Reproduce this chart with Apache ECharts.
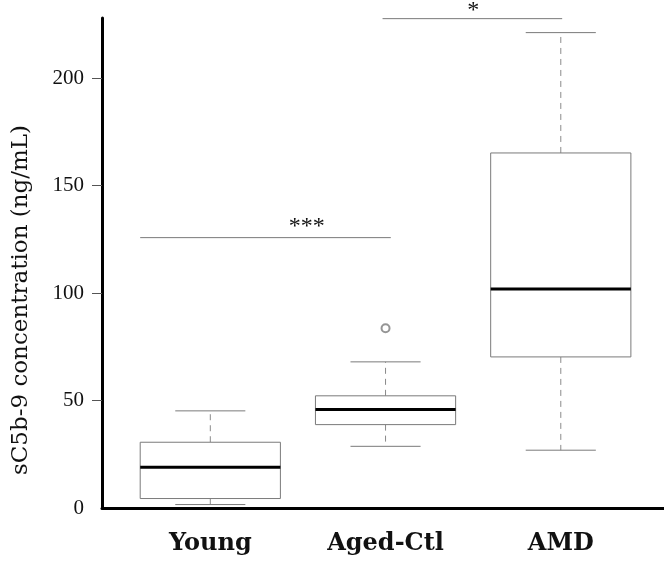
<!DOCTYPE html>
<html>
<head>
<meta charset="utf-8">
<script src="https://cdn.jsdelivr.net/npm/echarts@6/dist/echarts.min.js"></script>
<style>
html,body{margin:0;padding:0;background:#fff;}
#chart{width:664px;height:564px;}
</style>
</head>
<body>
<div id="chart"></div>
<script>
// ---- data ----
var categories = ['Young', 'Aged-Ctl', 'AMD'];
// [low whisker, Q1, median, Q3, high whisker]
var youngStats = [1.6, 4.4, 19.0, 30.6, 45.2];
var agedStats  = [28.7, 38.8, 45.8, 52.2, 68.0];
var amdStats   = [26.9, 70.3, 101.9, 165.2, 221.2];
var outliers = [[2, 83.6]];
var yTicks = [0, 50, 100, 150, 200];
var yTickMarks = [50, 100, 150, 200];
var yTitle = 'sC5b-9 concentration (ng/mL)';
// significance: [xStart, xEnd, lineY, textX, textY, label]
var sigStart = [0.6, 1.983];
var sigEnd   = [2.03, 3.008];
var sigLineY = [125.8, 227.7];
var sigTextX = [1.55, 2.5];
var sigTextY = [130.8, 231.5];
var sigLabel = ['***', '*'];

var boxData = [youngStats, agedStats, amdStats].map(function (s, i) {
  return [i + 1].concat(s);
});
var sigData = sigLabel.map(function (l, i) {
  return [sigStart[i], sigEnd[i], sigLineY[i], sigTextX[i], sigTextY[i], l];
});

var chart = echarts.init(document.getElementById('chart'));
var gray = '#7a7a7a';
var serif = 'Liberation Serif';

function boxRender(params, api) {
  var x = api.value(0);
  var lo = api.value(1), q1 = api.value(2), med = api.value(3), q3 = api.value(4), hi = api.value(5);
  var hw = 0.4, cw = 0.2;
  var pTL = api.coord([x - hw, q3]);
  var pBR = api.coord([x + hw, q1]);
  var pc = function (xx, yy) { return api.coord([xx, yy]); };
  var dashStyle = { stroke: '#8a8a8a', lineWidth: 1, lineDash: [6, 5] };
  var solid = { stroke: gray, lineWidth: 1 };
  return {
    type: 'group',
    children: [
      { type: 'line', shape: { x1: pc(x, q3)[0], y1: pc(x, q3)[1], x2: pc(x, hi)[0], y2: pc(x, hi)[1] }, style: dashStyle },
      { type: 'line', shape: { x1: pc(x, q1)[0], y1: pc(x, q1)[1], x2: pc(x, lo)[0], y2: pc(x, lo)[1] }, style: dashStyle },
      { type: 'line', shape: { x1: pc(x - cw, hi)[0], y1: pc(x - cw, hi)[1], x2: pc(x + cw, hi)[0], y2: pc(x + cw, hi)[1] }, style: solid },
      { type: 'line', shape: { x1: pc(x - cw, lo)[0], y1: pc(x - cw, lo)[1], x2: pc(x + cw, lo)[0], y2: pc(x + cw, lo)[1] }, style: solid },
      { type: 'rect', shape: { x: pTL[0], y: pTL[1], width: pBR[0] - pTL[0], height: pBR[1] - pTL[1] }, style: { fill: '#fff', stroke: gray, lineWidth: 1 } },
      { type: 'line', shape: { x1: pc(x - hw, med)[0], y1: pc(x - hw, med)[1], x2: pc(x + hw, med)[0], y2: pc(x + hw, med)[1] }, style: { stroke: '#000', lineWidth: 3 } }
    ]
  };
}

function sigRender(params, api) {
  var p1 = api.coord([api.value(0), api.value(2)]);
  var p2 = api.coord([api.value(1), api.value(2)]);
  var pt = api.coord([api.value(3), api.value(4)]);
  return {
    type: 'group',
    children: [
      { type: 'line', shape: { x1: p1[0], y1: p1[1], x2: p2[0], y2: p2[1] }, style: { stroke: gray, lineWidth: 1 } },
      { type: 'text', x: pt[0], y: pt[1], style: { text: api.value(5), fontFamily: serif, fontSize: 24, fill: '#111', align: 'center', verticalAlign: 'middle' } }
    ]
  };
}

chart.setOption({
  animation: false,
  backgroundColor: '#fff',
  grid: { left: 102, top: 18, right: 0, bottom: 56, containLabel: false },
  xAxis: {
    type: 'value', min: 0.382, max: 3.589,
    axisLine: { onZero: false, lineStyle: { color: '#000', width: 3 } },
    axisTick: { show: false },
    splitLine: { show: false },
    axisLabel: {
      customValues: [1, 2, 3],
      formatter: function (v) { return categories[Math.round(v) - 1] || ''; },
      fontFamily: 'DejaVu Serif', fontWeight: 'bold', fontSize: 24, color: '#111', margin: 24
    }
  },
  yAxis: {
    type: 'value', min: 0, max: 228, interval: 50,
    axisLine: { onZero: false, lineStyle: { color: '#000', width: 3 } },
    axisTick: { show: true, length: 10, customValues: yTickMarks, lineStyle: { color: '#555', width: 1 } },
    splitLine: { show: false },
    axisLabel: {
      customValues: yTicks,
      fontFamily: serif, fontSize: 21, color: '#111', margin: 18
    }
  },
  graphic: [{
    type: 'text', x: 21, y: 300, rotation: Math.PI / 2,
    style: { text: yTitle, fontFamily: 'DejaVu Serif', fontSize: 23, fill: '#111', align: 'center', verticalAlign: 'middle' }
  }],
  series: [
    { type: 'custom', renderItem: boxRender, data: boxData, encode: { x: 0, y: [1, 2, 3, 4, 5] }, clip: false },
    { type: 'scatter', data: outliers, symbol: 'emptyCircle', symbolSize: 8, itemStyle: { color: gray, borderColor: gray, borderWidth: 1 } },
    { type: 'custom', renderItem: sigRender, data: sigData, encode: { x: [0, 1], y: 2 }, clip: false }
  ]
});
</script>
</body>
</html>
